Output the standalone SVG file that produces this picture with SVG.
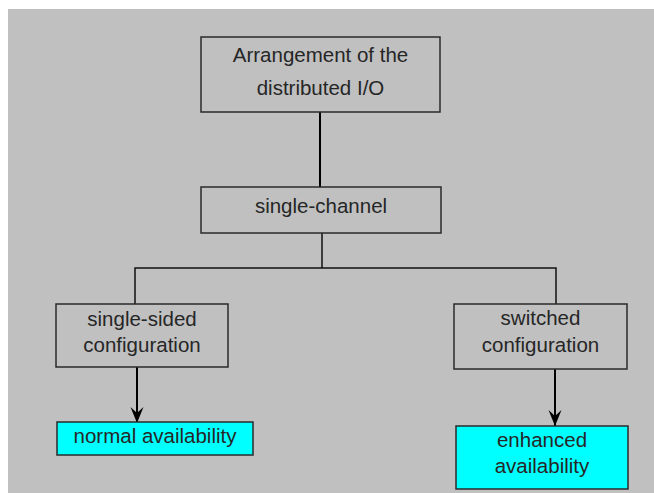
<svg xmlns="http://www.w3.org/2000/svg" width="654" height="493" viewBox="0 0 654 493">
<style>
.box{fill:none;stroke:#2a2a2a;stroke-width:1.5}
.hl{fill:#00ffff;stroke:#2a2a2a;stroke-width:1.5}
.t{font-family:"Liberation Sans",Arial,sans-serif;font-size:20.5px;fill:#262626;text-anchor:middle}
.c{fill:none;stroke:#111;stroke-width:1.5}
.a{fill:none;stroke:#000;stroke-width:2}
</style>
<defs>
<marker id="ah" markerUnits="userSpaceOnUse" markerWidth="18" markerHeight="16" viewBox="-17 -8 18 16" refX="0" refY="0" orient="auto">
<path d="M0,0 L-16,-6.5 L-10,0 L-16,6.5 Z" fill="#000"/>
</marker>
</defs>
<rect x="8" y="9" width="646" height="484" fill="#c0c0c0"/>
<g id="connectors">
<line class="a" x1="320" y1="112" x2="320" y2="187"/>
<polyline class="c" points="322,233 322,268"/>
<polyline class="c" points="135,304 135,268 556,268 556,304"/>
<line class="a" x1="137" y1="367" x2="137" y2="423" marker-end="url(#ah)"/>
<line class="a" x1="555" y1="369" x2="555" y2="426" marker-end="url(#ah)"/>
</g>
<g id="n-root">
<rect class="box" x="201" y="37" width="239" height="75"/>
<text class="t" x="320.5" y="62">Arrangement of the</text>
<text class="t" x="320.5" y="95">distributed I/O</text>
</g>
<g id="n-single-channel">
<rect class="box" x="201" y="187" width="240" height="46"/>
<text class="t" x="321" y="213">single-channel</text>
</g>
<g id="n-single-sided">
<rect class="box" x="56" y="304" width="172" height="63"/>
<text class="t" x="142" y="326">single-sided</text>
<text class="t" x="142" y="352">configuration</text>
</g>
<g id="n-switched">
<rect class="box" x="454" y="304" width="173" height="65"/>
<text class="t" x="540.5" y="325">switched</text>
<text class="t" x="540.5" y="352">configuration</text>
</g>
<g id="n-normal">
<rect class="hl" x="57" y="422" width="196" height="33"/>
<text class="t" x="155" y="443">normal availability</text>
</g>
<g id="n-enhanced">
<rect class="hl" x="456" y="426" width="172" height="63"/>
<text class="t" x="542" y="447">enhanced</text>
<text class="t" x="542" y="473">availability</text>
</g>
</svg>
